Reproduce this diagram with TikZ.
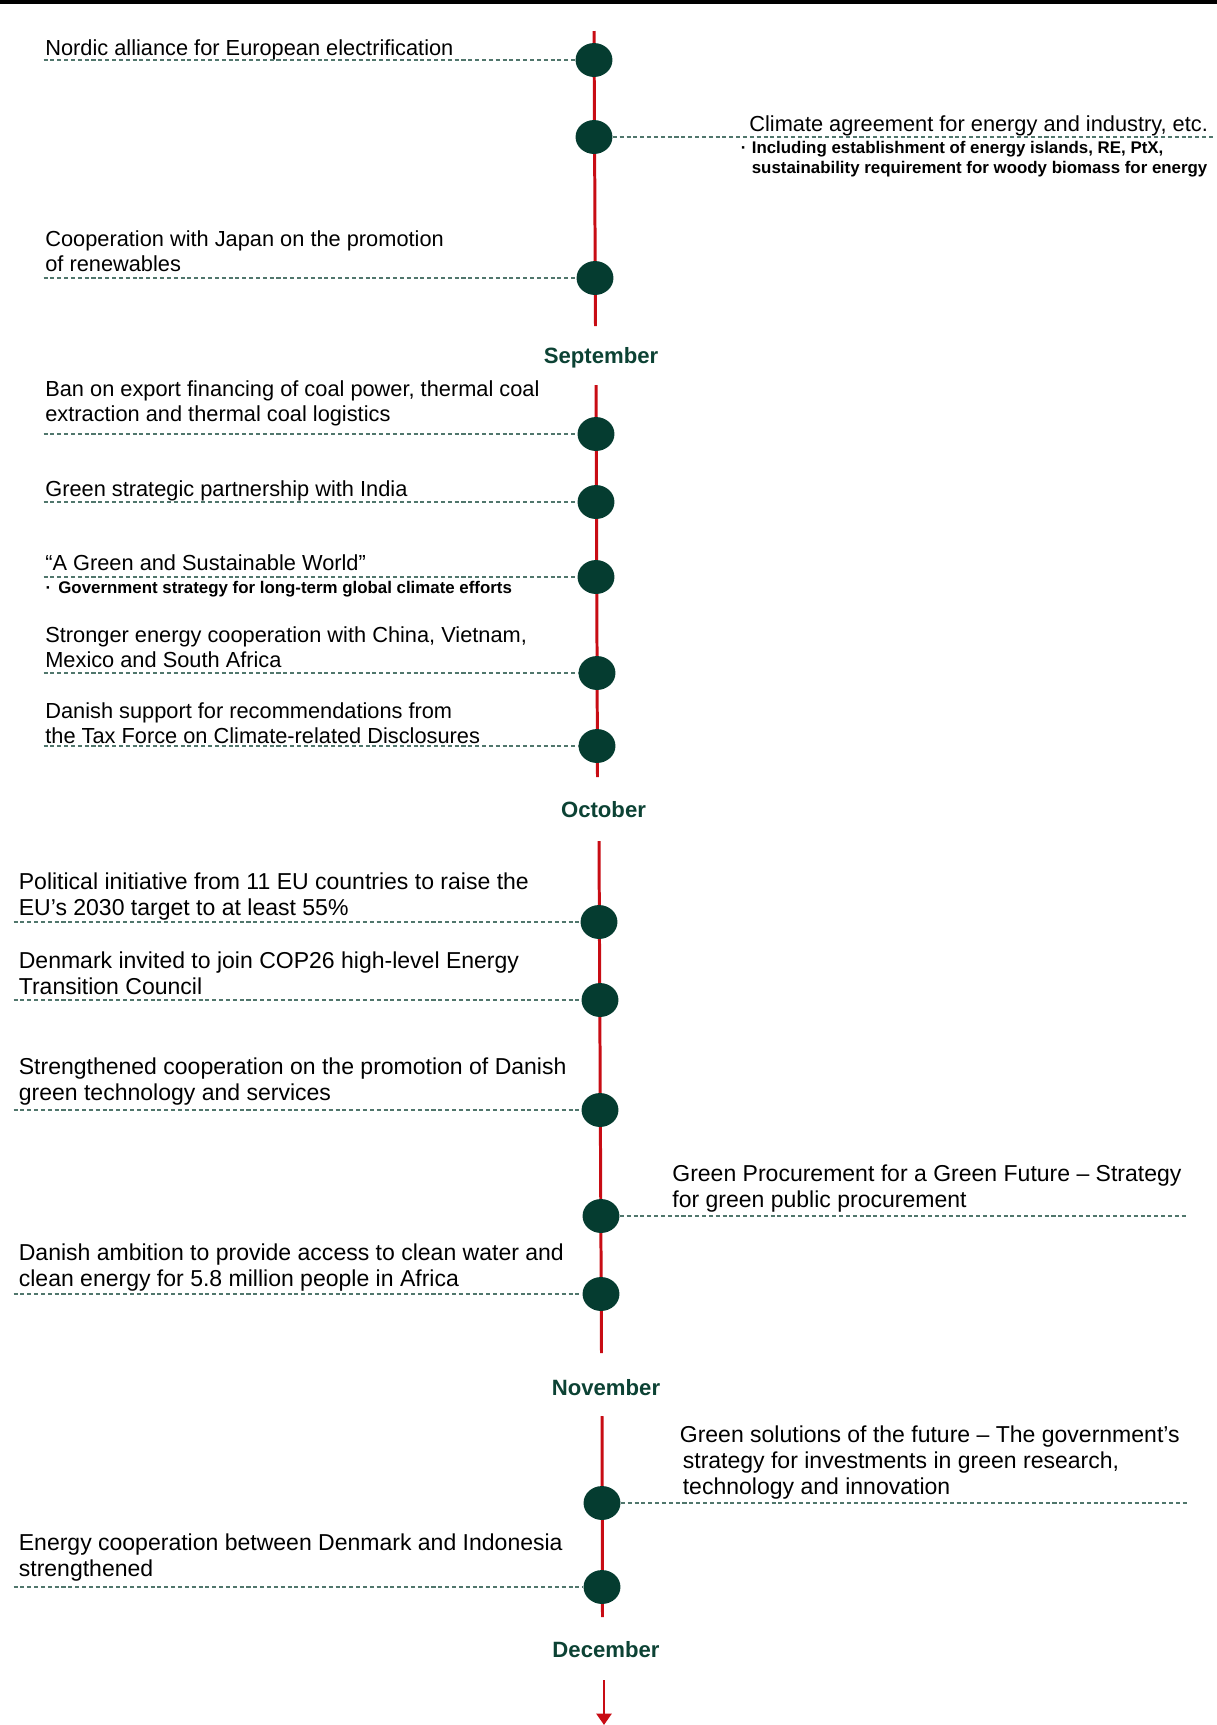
\documentclass[tikz,border=0pt]{standalone}
\usepackage{fontspec}
\setmainfont{Liberation Sans}
\usepackage{xcolor}
\usepackage{tikz}
\usetikzlibrary{shapes.geometric, arrows.meta}
\definecolor{dotgreen}{RGB}{5,60,48}
\definecolor{monthgreen}{RGB}{12,66,52}
\definecolor{spinered}{RGB}{200,12,20}
\definecolor{leadgray}{RGB}{80,118,108}
\tikzset{
  dot/.style={ellipse, fill=dotgreen, minimum width=21pt, minimum height=19.3pt, inner sep=0pt},
  evt/.style={anchor=base west, inner sep=0pt, align=left, font=\fontsize{12.4}{14.2}\selectfont},
  evtbig/.style={evt, font=\fontsize{13.1}{14.6}\selectfont},
  note/.style={anchor=base west, inner sep=0pt, align=left, font=\fontsize{9.6}{11.3}\selectfont\bfseries},
  month/.style={anchor=base, inner sep=0pt, text=monthgreen, font=\fontsize{12.6}{15}\selectfont\bfseries},
  lead/.style={draw=leadgray, line width=0.7pt, dash pattern=on 2.3pt off 1.6pt},
  spine/.style={draw=spinered, line width=1.7pt},
}

\begin{document}
\begin{tikzpicture}[x=0.02cm, y=-0.02cm]
  \useasboundingbox (0,0) rectangle (1217,1725);
  \draw[line width=2.3pt] (0,2) -- (1217,2);

  % ends of the leader lines
  \coordinate (lm1) at (43.5,0);
  \coordinate (lm3) at (13.5,0);
  \coordinate (rm1) at (1215,0);
  \coordinate (rm3) at (1187,0);

  % spine pieces between the months
  \coordinate (s1a) at (594,31);   \coordinate (s1b) at (595.5,326);
  \coordinate (s2a) at (596,385);  \coordinate (s2b) at (597.5,777);
  \coordinate (s3a) at (599,841);  \coordinate (s3b) at (601.5,1353);
  \coordinate (s4a) at (602,1416); \coordinate (s4b) at (602.5,1617);
  \coordinate (s5a) at (604,1680); \coordinate (s5b) at (604,1725);
  \draw[spine] (s1a) -- (s1b);
  \draw[spine] (s2a) -- (s2b);
  \draw[spine] (s3a) -- (s3b);
  \draw[spine] (s4a) -- (s4b);
  \draw[spine, -{Triangle[width=8.5pt, length=6.5pt]}] (s5a) -- (s5b);

  \node[month] (sep) at (601,363) {September};
  \node[month] (oct) at (603.5,817) {October};
  \node[month] (nov) at (606,1395) {November};
  \node[month] (dec) at (606,1657) {December};

  % August (base = last line)
  \node[dot] (d1) at (594,60) {};
  \node[dot] (d2) at (594,137) {};
  \node[dot] (d3) at (595,278) {};
  \node[evt] (t1) at (45,55) {Nordic alliance for European electrification};
  \node[evt] (t2) at (749,131) {Climate agreement for energy and industry, etc.};
  \node[note] (n2) at (751.5,173) {\llap{\textperiodcentered\hspace{3pt}}Including establishment of energy islands, RE, PtX,\\sustainability requirement for woody biomass for energy};
  \node[evt] (t3) at (45,271.7) {Cooperation with Japan on the promotion\\of renewables};
  \draw[lead] (lm1 |- d1) -- (d1);
  \draw[lead] (d2) -- (rm1 |- d2);
  \draw[lead] (lm1 |- d3) -- (d3);

  % September
  \node[dot] (d4) at (596,434) {};
  \node[dot] (d5) at (596,502) {};
  \node[dot] (d6) at (596,577) {};
  \node[dot] (d7) at (597,673) {};
  \node[dot] (d8) at (597,746) {};
  \node[evt] (t4) at (45,421.7) {Ban on export financing of coal power, thermal coal\\extraction and thermal coal logistics};
  \node[evt] (t5) at (45,496.7) {Green strategic partnership with India};
  \node[evt] (t6) at (45,570.7) {``A Green and Sustainable World''};
  \node[note] (n6) at (58,593.3) {\llap{\textperiodcentered\hspace{4pt}}Government strategy for long-term global climate efforts};
  \node[evt] (t7) at (45,667.7) {Stronger energy cooperation with China, Vietnam,\\Mexico and South Africa};
  \node[evt] (t8) at (45,743.3) {Danish support for recommendations from\\the Tax Force on Climate-related Disclosures};
  \draw[lead] (lm1 |- d4) -- (d4);
  \draw[lead] (lm1 |- d5) -- (d5);
  \draw[lead] (lm1 |- d6) -- (d6);
  \draw[lead] (lm1 |- d7) -- (d7);
  \draw[lead] (lm1 |- d8) -- (d8);

  % October
  \node[dot] (d9) at (599,922) {};
  \node[dot] (d10) at (600,1000) {};
  \node[dot] (d11) at (600,1110) {};
  \node[dot] (d12) at (601,1216) {};
  \node[dot] (d13) at (601,1294) {};
  \node[evtbig] (t9) at (18.5,915) {Political initiative from 11 EU countries to raise the\\EU’s 2030 target to at least 55\%};
  \node[evtbig] (t10) at (18.5,994) {Denmark invited to join COP26 high-level Energy\\Transition Council};
  \node[evtbig] (t11) at (18.5,1100) {Strengthened cooperation on the promotion of Danish\\green technology and services};
  \node[evtbig] (t12) at (672,1207) {Green Procurement for a Green Future – Strategy\\for green public procurement};
  \node[evtbig] (t13) at (18.5,1286) {Danish ambition to provide access to clean water and\\clean energy for 5.8 million people in Africa};
  \draw[lead] (lm3 |- d9) -- (d9);
  \draw[lead] (lm3 |- d10) -- (d10);
  \draw[lead] (lm3 |- d11) -- (d11);
  \draw[lead] (d12) -- (rm3 |- d12);
  \draw[lead] (lm3 |- d13) -- (d13);

  % November
  \node[dot] (d14) at (602,1503) {};
  \node[dot] (d15) at (602,1587) {};
  \node[evtbig] (t14) at (679.5,1494) {Green solutions of the future – The government’s\\\hspace*{1.7pt}strategy for investments in green research,\\\hspace*{1.7pt}technology and innovation};
  \node[evtbig] (t15) at (18.5,1576) {Energy cooperation between Denmark and Indonesia\\strengthened};
  \draw[lead] (d14) -- (rm3 |- d14);
  \draw[lead] (lm3 |- d15) -- (d15);
\end{tikzpicture}
\end{document}
